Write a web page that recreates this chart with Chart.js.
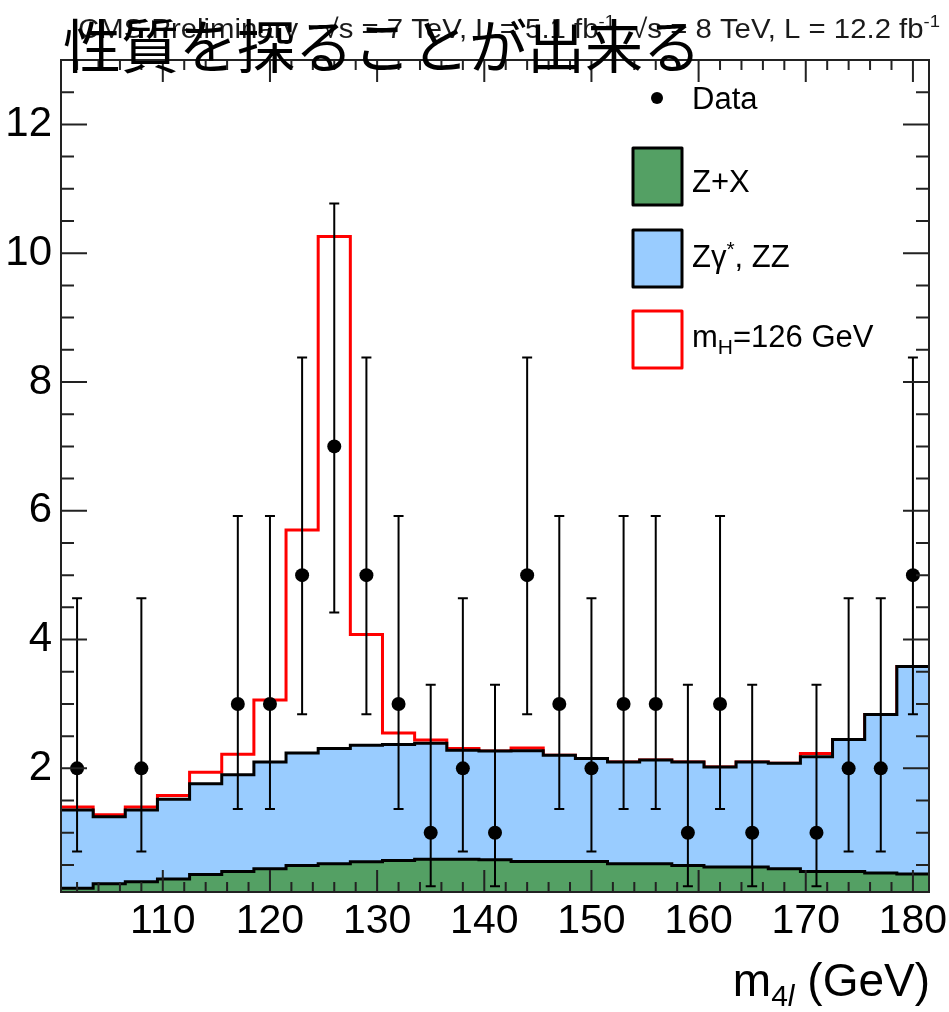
<!DOCTYPE HTML>
<html>
<head>
<meta charset="utf-8">
<script src="https://cdn.jsdelivr.net/npm/chart.js"></script>
<style>
    body { margin: 0; background: #ffffff; }
    #chartContainer { position: relative; width: 949px; height: 1012px; }
</style>
</head>
<body>

<div id="chartContainer"><canvas id="myChart"></canvas></div>

<script type="text/javascript">
    // bin centres in GeV (3 GeV wide bins, 100.5 - 181.5)
    const binCenters = [102,105,108,111,114,117,120,123,126,129,132,135,138,141,144,147,150,153,156,159,162,165,168,171,174,177,180];
    const binWidth = 3;

    // stacked expectations, per bin
    const zxValues  = [0.14,0.21,0.24,0.28,0.35,0.40,0.44,0.49,0.52,0.55,0.57,0.59,0.59,0.58,0.555,0.555,0.555,0.52,0.52,0.49,0.47,0.47,0.44,0.40,0.40,0.375,0.36];
    const zzValues  = [1.215,1.04,1.115,1.24,1.41,1.50,1.66,1.75,1.79,1.81,1.80,1.80,1.69,1.69,1.72,1.65,1.60,1.58,1.61,1.61,1.55,1.63,1.64,1.78,2.05,2.46,3.22];
    const sigValues = [0.045,0.03,0.045,0.06,0.18,0.32,0.96,3.46,7.95,1.72,0.18,0.05,0.03,0,0.04,0,0,0,0,0,0,0,0,0.05,0,0,0];

    // observed events and their error bar ends
    const dataCounts = [2,0,2,0,0,3,3,5,7,5,3,1,2,1,5,3,2,3,3,1,3,1,0,1,2,2,5];
    const dataLow  = [0.71,null,0.71,null,null,1.37,1.37,2.84,4.42,2.84,1.37,0.17,0.71,0.17,2.84,1.37,0.71,1.37,1.37,0.17,1.37,0.17,null,0.17,0.71,0.71,2.84];
    const dataHigh = [4.64,null,4.64,null,null,5.92,5.92,8.38,10.77,8.38,5.92,3.30,4.64,3.30,8.38,5.92,4.64,5.92,5.92,3.30,5.92,3.30,null,3.30,4.64,4.64,8.38];

    const xTickLabels = [110,120,130,140,150,160,170,180];
    const yTickLabels = [2,4,6,8,10,12];

    const fontFamily = "'Liberation Sans', Arial, sans-serif";
    const greenFill = '#54a064';
    const blueFill = '#99ccff';
    const redLine = '#ff0000';

    function histPoints(vals){
        const pts = binCenters.map((c,i) => ({x: c - binWidth/2, y: vals[i]}));
        pts.push({x: binCenters[binCenters.length-1] + binWidth/2, y: vals[vals.length-1]});
        return pts;
    }

    function drawRich(ctx, x, y, parts, align){
        let w = 0;
        parts.forEach(p => { ctx.font = (p[3] || '') + ' ' + p[1] + 'px ' + fontFamily; w += ctx.measureText(p[0]).width; });
        let cx = align === 'right' ? x - w : x;
        parts.forEach(p => {
            ctx.font = (p[3] || '') + ' ' + p[1] + 'px ' + fontFamily;
            ctx.fillText(p[0], cx, y + (p[2] || 0));
            cx += ctx.measureText(p[0]).width;
        });
        return w;
    }

    // error bars, frame and inward ticks (ROOT style)
    const frameAxes = {
        id: 'frameAxes',
        afterDatasetsDraw(chart){
            const {ctx, chartArea: a, scales: {x, y}} = chart;
            ctx.save();
            ctx.strokeStyle = '#000';
            ctx.lineWidth = 2;
            ctx.beginPath();
            for(let i = 0; i < binCenters.length; i++){
                if(dataCounts[i] <= 0) continue;
                const px = x.getPixelForValue(binCenters[i]);
                const lo = y.getPixelForValue(dataLow[i]);
                const hi = y.getPixelForValue(dataHigh[i]);
                ctx.moveTo(px, lo); ctx.lineTo(px, hi);
                ctx.moveTo(px - 5, lo); ctx.lineTo(px + 5, lo);
                ctx.moveTo(px - 5, hi); ctx.lineTo(px + 5, hi);
            }
            ctx.stroke();

            ctx.strokeStyle = '#222';
            ctx.beginPath();
            for(let v = 102; v <= 181.5; v += 2){
                const px = x.getPixelForValue(v);
                const len = xTickLabels.includes(v) ? 22 : 10;
                ctx.moveTo(px, a.bottom); ctx.lineTo(px, a.bottom - len);
                ctx.moveTo(px, a.top); ctx.lineTo(px, a.top + len);
            }
            for(let v = 0.5; v < 13; v += 0.5){
                const py = y.getPixelForValue(v);
                const len = yTickLabels.includes(v) ? 26 : 13;
                ctx.moveTo(a.left, py); ctx.lineTo(a.left + len, py);
                ctx.moveTo(a.right, py); ctx.lineTo(a.right - len, py);
            }
            ctx.stroke();
            ctx.strokeRect(a.left, a.top, a.right - a.left, a.bottom - a.top);
            ctx.restore();
        }
    };

    // legend, axis title and header texts
    const overlayText = {
        id: 'overlayText',
        afterDraw(chart){
            const ctx = chart.ctx;
            ctx.save();
            ctx.fillStyle = '#000';
            ctx.textBaseline = 'alphabetic';

            // legend
            ctx.beginPath(); ctx.arc(657, 98, 6, 0, Math.PI*2); ctx.fill();
            drawRich(ctx, 692, 109, [['Data', 31]]);
            ctx.lineWidth = 3; ctx.lineJoin = 'round';
            ctx.fillStyle = greenFill; ctx.fillRect(633, 148, 49, 57);
            ctx.strokeStyle = '#000'; ctx.strokeRect(633, 148, 49, 57);
            ctx.fillStyle = blueFill; ctx.fillRect(633, 230, 49, 57);
            ctx.strokeRect(633, 230, 49, 57);
            ctx.strokeStyle = redLine; ctx.strokeRect(633, 311, 49, 57);
            ctx.fillStyle = '#000';
            drawRich(ctx, 692, 192, [['Z+X', 31]]);
            drawRich(ctx, 692, 267, [['Z\u03b3', 31], ['*', 21, -11], [', ZZ', 31]]);
            drawRich(ctx, 692, 347, [['m', 31], ['H', 21, 7], ['=126 GeV', 31]]);

            // x axis title
            drawRich(ctx, 930, 996, [['m', 46], ['4', 30, 10], ['l', 30, 10, 'italic'], [' (GeV)', 46]], 'right');

            // header
            const header = [['CMS Preliminary   \u221as = 7 TeV, L = 5.1 fb', 27], ['-1', 17, -11], ['  \u221as = 8 TeV, L = 12.2 fb', 27], ['-1', 17, -11]];
            ctx.fillStyle = '#1a1a1a';
            ctx.globalAlpha = 0;
            const hw = drawRich(ctx, 0, -100, header);
            ctx.globalAlpha = 1;
            ctx.save();
            ctx.translate(78, 0);
            ctx.scale(862 / hw, 1);
            drawRich(ctx, 0, 38, header);
            ctx.restore();

            // japanese title
            ctx.fillStyle = '#000';
            ctx.font = "58px 'Noto Sans CJK JP'";
            ctx.textBaseline = 'middle';
            ctx.fillText('性質を探ることが出来る', 63, 46);
            ctx.restore();
        }
    };

    const data = {
        datasets: [
            {
                label: 'Data',
                data: binCenters.map((c,i) => ({x: c, y: dataCounts[i]})).filter(p => p.y > 0),
                showLine: false,
                pointRadius: 7,
                pointHoverRadius: 7,
                pointBackgroundColor: '#000',
                pointBorderWidth: 0,
                stack: 'obs'
            },
            {
                label: 'Z+X',
                data: histPoints(zxValues),
                stepped: 'before',
                fill: 'start',
                backgroundColor: greenFill,
                borderColor: '#000',
                borderWidth: 3,
                pointRadius: 0,
                stack: 'bkg'
            },
            {
                label: 'Z\u03b3*, ZZ',
                data: histPoints(zzValues),
                stepped: 'before',
                fill: 'start',
                backgroundColor: blueFill,
                borderColor: '#000',
                borderWidth: 3,
                pointRadius: 0,
                stack: 'bkg'
            },
            {
                label: 'mH=126 GeV',
                data: histPoints(sigValues),
                stepped: 'before',
                fill: false,
                borderColor: redLine,
                borderWidth: 3,
                pointRadius: 0,
                stack: 'bkg'
            }
        ]
    };

    const config = {
        type: 'line',
        data: data,
        plugins: [frameAxes, overlayText],
        options: {
            responsive: true,
            maintainAspectRatio: false,
            animation: false,
            layout: { padding: { top: 60, right: 20, left: 0, bottom: 0 } },
            plugins: { legend: { display: false }, tooltip: { enabled: false } },
            scales: {
                x: {
                    type: 'linear',
                    min: 100.5,
                    max: 181.5,
                    grid: { display: false, drawTicks: false },
                    border: { display: false },
                    ticks: { font: { family: fontFamily, size: 41 }, color: '#000', padding: 5, maxRotation: 0, autoSkip: false },
                    afterBuildTicks: s => { s.ticks = xTickLabels.map(v => ({value: v})); },
                    afterFit: s => { s.height = 120; s.paddingLeft = 0; s.paddingRight = 0; }
                },
                y: {
                    stacked: true,
                    min: 0.08,
                    max: 13,
                    grid: { display: false, drawTicks: false },
                    border: { display: false },
                    ticks: { font: { family: fontFamily, size: 42 }, color: '#000', padding: 9 },
                    afterBuildTicks: s => { s.ticks = yTickLabels.map(v => ({value: v})); },
                    afterFit: s => { s.width = 61; s.paddingTop = 0; s.paddingBottom = 0; }
                }
            }
        }
    };

    const myChart = new Chart(document.getElementById('myChart'), config);
</script>
</body>
</html>
